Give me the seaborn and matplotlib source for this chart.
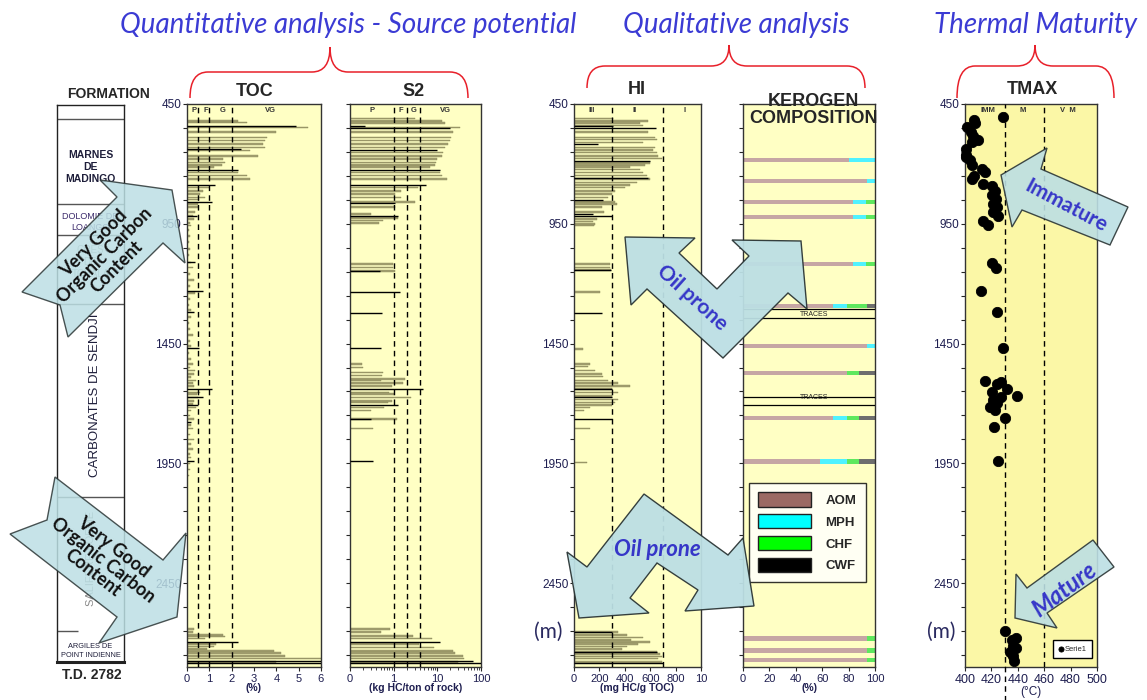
import numpy as np
import matplotlib
matplotlib.use("Agg")
import matplotlib.pyplot as plt
import seaborn as sns
from matplotlib.patches import Polygon, Patch, PathPatch
from matplotlib.path import Path
from matplotlib.ticker import LogLocator, NullFormatter

# ---- values (depth in m) ----
toc_depth = [520, 527, 549, 568, 589, 603, 617, 631, 645, 666, 680, 694, 705, 714, 735, 749, 763,
             798, 812, 826, 840, 849, 868, 881, 900, 916, 930, 947, 958,
             975, 1000, 1025, 1055, 1080, 1111, 1132, 1160, 1185, 1210, 1240, 1265, 1290, 1310,
             1340, 1365, 1390, 1415, 1440, 1460, 1490, 1515, 1536, 1550, 1563, 1577, 1590, 1605,
             1615, 1626, 1654, 1661, 1675, 1689, 1703, 1717, 1730, 1750, 1765, 1790, 1804, 1830,
             1850, 1870, 1890, 1910, 1925, 1950, 1975, 2000,
             2642, 2653, 2667, 2673, 2681, 2705, 2715, 2726, 2733, 2742, 2753, 2765, 2778]
toc_value = [2.3, 2.7, 5.4, 4.0, 3.6, 3.5, 3.4, 3.5, 2.8, 3.2, 1.6, 1.7, 1.55, 1.2, 2.3, 2.7, 2.8,
             1.0, 0.73, 0.58, 0.79, 0.55, 0.5, 0.5, 0.35, 0.25, 0.3, 0.15, 0.2,
             0.1, 0.12, 0.08, 0.15, 0.1, 0.2, 0.25, 0.15, 0.3, 0.12, 0.35, 0.15, 0.1, 0.2,
             0.18, 0.1, 0.15, 0.25, 0.12, 0.2, 0.1, 0.2, 0.25, 0.15, 0.35, 0.3, 0.2, 0.4,
             0.25, 0.3, 0.6, 0.45, 0.5, 0.3, 0.25, 0.4, 0.2, 0.15, 0.3, 0.2, 0.25, 0.15,
             0.3, 0.2, 0.25, 0.15, 0.2, 0.12, 0.15, 0.1,
             0.3, 0.25, 1.6, 1.7, 0.8, 1.3, 1.2, 0.9, 3.9, 4.2, 4.4, 6.0, 4.0]
toc_black_depth = [540, 638, 724, 788, 858, 916, 1111, 1229, 1320, 1470, 1640, 1671, 1707, 1779,
                   1939, 2694, 2774, 2784]
toc_black_value = [4.9, 2.4, 2.3, 1.25, 1.1, 0.45, 0.35, 0.73, 0.3, 0.55, 1.1, 0.73, 0.5, 0.2,
                   0.3, 2.3, 6.0, 6.0]

s2_depth = [510, 520, 529, 549, 568, 589, 603, 617, 631, 652, 666, 680, 694, 705, 714, 735, 749,
            763, 798, 812, 826, 840, 858, 881, 909, 927, 937, 947, 1118, 1132, 1146,
            1536, 1550, 1570, 1584, 1598, 1605, 1615, 1626, 1654, 1661, 1675, 1689, 1696, 1717,
            1730, 1765, 1804, 2642, 2653, 2670, 2681, 2705, 2719, 2733, 2742, 2753, 2765, 2778]
s2_value = [3.1, 12.5, 14.9, 33, 22.8, 21, 20, 18, 15, 13.4, 12.5, 9.6, 9.3, 8.8, 6.7, 11.5, 12.5,
            16.5, 3.7, 1.5, 1.07, 1.5, 3.1, 1.07, 0.31, 1.27, 0.58, 0.45, 0.98, 0.98, 1.1,
            0.19, 0.2, 0.58, 0.55, 1.8, 0.5, 1.6, 0.9, 0.8, 1.0, 2.5, 0.9, 0.75, 0.6,
            0.31, 1.17, 0.33, 0.82, 0.5, 2.8, 7.4, 3.9, 8.5, 23, 25, 38, 40, 30]
s2_black_depth = [540, 549, 641, 724, 788, 863, 916, 1146, 1234, 1324, 1470, 1640, 1707, 1765,
                  1939, 2694, 2774, 2784]
s2_black_value = [0.22, 19.4, 9.6, 11.5, 5.5, 1.07, 1.27, 0.49, 1.39, 0.55, 0.51, 4.7, 1.27, 0.31,
                  0.34, 11.8, 64, 100]

hi_depth = [510, 520, 529, 540, 568, 589, 599, 610, 631, 641, 652, 666, 677, 696, 705, 714, 724,
            735, 749, 763, 777, 788, 798, 812, 826, 840, 858, 868, 881, 900, 930, 941, 951, 958,
            1118, 1132, 1143, 1234, 1473, 1536, 1545, 1563, 1577, 1587, 1605, 1615, 1626, 1640,
            1654, 1668, 1684, 1696, 1707, 1717, 1730, 1804, 1946,
            2653, 2667, 2677, 2687, 2695, 2705, 2715, 2726, 2737, 2746, 2756, 2765, 2778]
hi_value = [310, 585, 520, 540, 579, 638, 650, 543, 640, 620, 651, 661, 690, 598, 559, 441, 520,
            543, 575, 600, 494, 441, 402, 323, 297, 268, 323, 336, 218, 236, 178, 150, 165, 158,
            283, 283, 290, 205, 73, 126, 110, 165, 220, 230, 270, 349, 441, 300,
            349, 300, 349, 320, 300, 126, 80, 126, 100,
            349, 420, 546, 450, 598, 500, 420, 380, 651, 677, 690, 660, 690]
hi_black_depth = [540, 549, 617, 687, 760, 849, 909, 919, 1143, 1324, 1640, 1675, 1765, 2653,
                  2737, 2784]
hi_black_value = [305, 646, 189, 598, 580, 228, 152, 297, 290, 218, 297, 297, 297, 300, 651, 700]

kerogen_depth = [684, 771, 859, 922, 1118, 1293, 1460, 1573, 1761, 1941, 2680, 2730, 2771]
aom = [80, 94, 83, 83, 83, 68, 94, 79, 68, 58, 94, 94, 94]
mph = [20, 6, 10, 10, 10, 11, 6, 0, 11, 21, 0, 0, 0]
chf = [0, 0, 7, 7, 7, 15, 0, 9, 9, 9, 6, 6, 6]
cwf = [0, 0, 0, 0, 0, 6, 0, 12, 12, 12, 0, 0, 0]
traces_lines = [1306, 1344, 1673, 1707]
traces_text = [1328, 1675]

tmax_temp = [428.5, 407, 407.6, 401.8, 404.3, 406.3, 409.6, 405, 400.5, 401, 400.5, 403.8, 405,
             412.6, 415, 406.8, 405, 413.9, 420.2, 422.7, 420.2, 423.5, 421.5, 424, 420.9, 425.3,
             413.9, 417.2, 420.2, 423.5, 411.9, 424.5, 428.5, 415.2, 424.5, 427, 432.1, 420.2,
             439.1, 427, 420.9, 424.5, 418.9, 422.7, 430.3, 421.9, 425.3, 430.3, 438.6, 435.3,
             436.5, 438.6, 434.1, 436.5, 437.1]
tmax_depth = [506, 516, 531, 547, 568, 585, 599, 610, 638, 663, 673, 683, 705, 721, 735, 752, 763,
              785, 794, 812, 830, 847, 868, 881, 902, 919, 937, 955, 1114, 1136, 1230, 1320, 1470,
              1605, 1619, 1612, 1640, 1651, 1670, 1675, 1685, 1698, 1716, 1726, 1762, 1800, 1939,
              2649, 2681, 2687, 2712, 2719, 2737, 2754, 2774]

formation_tops = [509, 865, 994, 1283, 2091]

sns.set_style("ticks")
plt.rcParams['font.family'] = ['Liberation Sans', 'DejaVu Sans']

W, H = 1147, 700
fig = plt.figure(figsize=(W / 100, H / 100), dpi=100)

PANEL = '#ffffc4'
OLIVE = '#a4a172'
NAVY = '#1e1e50'
BLUE = '#3636c8'
ARROW = '#bcdfe4'
RED = '#e8202a'


def px(x, y):
    return (x / W, 1 - y / H)


def add_ax(left, right, top, bottom):
    return fig.add_axes([left / W, 1 - bottom / H, (right - left) / W, (bottom - top) / H])


def depth_axis(ax, labels=True, face=PANEL):
    ax.set_facecolor(face)
    ax.set_ylim(2800, 450)
    ticks = np.arange(450, 2800, 100)
    ax.set_yticks(ticks)
    if labels:
        ax.set_yticklabels([str(t) if (t - 450) % 500 == 0 else '' for t in ticks])
    else:
        ax.set_yticklabels([])
    ax.tick_params(axis='y', direction='out', length=3, width=0.8, labelsize=8.5,
                   labelcolor=NAVY, pad=1)
    ax.tick_params(axis='x', direction='out', length=3, width=0.8, labelsize=8,
                   labelcolor=NAVY, pad=2)
    for s in ax.spines.values():
        s.set_color('#333333')
        s.set_linewidth(1)


def draw_bars(ax, depth, val, bdepth, bval, base=0.0):
    ax.barh(depth, np.array(val) - base, left=base, height=6.5, color=OLIVE,
            edgecolor='#8a8858', linewidth=0.3, zorder=2)
    ax.hlines(bdepth, base, bval, color='black', lw=1.0, zorder=3)


def dashed(ax, values):
    for v in values:
        ax.axvline(v, color='black', ls=(0, (4, 3)), lw=1, zorder=4)


def top_labels(ax, items):
    for x, t in items:
        ax.text(x, 478, t, fontsize=5.5, fontweight='bold', color='#333333',
                ha='center', va='center', zorder=5)


def xlab(ax, text, bold=True, size=7.5):
    ax.set_xlabel(text, fontsize=size, fontweight='bold' if bold else 'normal',
                  color=NAVY, labelpad=-1)


# ---- formation column ----
axf = add_ax(57, 124, 105, 662)
axf.set_ylim(2782, 450)
axf.set_xlim(0, 1)
axf.set_xticks([])
axf.set_yticks([])
axf.set_facecolor('white')
for s in axf.spines.values():
    s.set_color('#222222')
    s.set_linewidth(1)
axf.spines['bottom'].set_linewidth(2.2)
axf.hlines(formation_tops, 0, 1, color='#555555', lw=1)
axf.hlines([2652], 0, 0.31, color='#555555', lw=1)
axf.text(0.5, 710, 'MARNES\nDE\nMADINGO', ha='center', va='center', fontsize=7.5,
         fontweight='bold', color='#1e1e3a', linespacing=1.25)
axf.text(0.5, 940, 'DOLOMIE DE\nLOANGO', ha='center', va='center', fontsize=6.5,
         color='#3b2a6b', linespacing=1.2)
axf.text(0.5, 1107, 'GRES\nDE\nTCHALA', ha='center', va='center', fontsize=7,
         color='#9a9a9a', linespacing=1.2)
axf.text(0.57, 1664, 'CARBONATES DE SENDJI', ha='center', va='center', fontsize=9.5,
         color='#1e1e3a', rotation=90)
axf.text(0.5, 2347, 'SALIFERE LOEME', ha='center', va='center', fontsize=8,
         color='#8a8a8a', rotation=90)
axf.text(0.5, 2736, 'ARGILES DE\nPOINT INDIENNE', ha='center', va='center', fontsize=5.3,
         color='#1e1e3a', linespacing=1.5)
fig.text(*px(108, 94), 'FORMATION', ha='center', va='center', fontsize=10, fontweight='bold')
fig.text(*px(92, 675), 'T.D. 2782', ha='center', va='center', fontsize=10, fontweight='bold')

# ---- TOC ----
ax1 = add_ax(187, 321, 104, 667)
depth_axis(ax1)
draw_bars(ax1, toc_depth, toc_value, toc_black_depth, toc_black_value)
ax1.set_xlim(0, 6)
ax1.set_xticks(range(7))
dashed(ax1, [0.5, 1, 2])
top_labels(ax1, [(0.3, 'P'), (0.85, 'F'), (1.6, 'G'), (3.75, 'VG')])
xlab(ax1, '(%)')

# ---- S2 ----
ax2 = add_ax(350, 481, 104, 667)
depth_axis(ax2, labels=False)
ax2.set_xscale('log')
draw_bars(ax2, s2_depth, s2_value, s2_black_depth, s2_black_value, base=0.1)
ax2.set_xlim(0.1, 100)
ax2.set_xticks([0.1, 1, 10, 100])
ax2.set_xticklabels(['0', '1', '10', '100'])
ax2.xaxis.set_minor_locator(LogLocator(base=10, subs=range(2, 10)))
ax2.xaxis.set_minor_formatter(NullFormatter())
ax2.tick_params(axis='x', which='minor', length=2, direction='out')
dashed(ax2, [1, 2, 4])
top_labels(ax2, [(0.32, 'P'), (1.47, 'F'), (2.8, 'G'), (15.7, 'VG')])
xlab(ax2, '(kg HC/ton of rock)')

# ---- HI ----
ax3 = add_ax(574, 701, 104, 667)
depth_axis(ax3)
draw_bars(ax3, hi_depth, hi_value, hi_black_depth, hi_black_value)
ax3.set_xlim(0, 1000)
ax3.set_xticks(range(0, 1001, 200))
ax3.set_xticklabels(['0', '200', '400', '600', '800', '10'])
dashed(ax3, [300, 700])
top_labels(ax3, [(142, 'III'), (480, 'II'), (874, 'I')])
xlab(ax3, '(mg HC/g TOC)')

# ---- kerogen composition ----
ax4 = add_ax(743, 875, 104, 667)
depth_axis(ax4, labels=False)
ax4.set_xlim(0, 100)
ax4.set_xticks(range(0, 101, 20))
left = np.zeros(len(kerogen_depth))
bar_cols = ['#c6a6a4', '#4ff2ff', '#5ee85e', '#6e6e6e']
for vals, col in zip([aom, mph, chf, cwf], bar_cols):
    ax4.barh(kerogen_depth, vals, left=left, height=20, color=col, lw=0, zorder=2)
    left = left + np.array(vals)
ax4.hlines(traces_lines, 0, 100, color='black', lw=0.9, zorder=3)
for d in traces_text:
    ax4.text(54, d, 'TRACES', fontsize=5, ha='center', va='center', color='#222222', zorder=4)
xlab(ax4, '(%)')
handles = [Patch(facecolor=c, edgecolor='#222222', lw=1)
           for c in ['#9b6a64', '#00ffff', '#00ff00', '#000000']]
leg = ax4.legend(handles, ['AOM', 'MPH', 'CHF', 'CWF'], loc='upper left',
                 bbox_to_anchor=px(749, 483), bbox_transform=fig.transFigure,
                 frameon=True, fancybox=False, edgecolor='black',
                 prop={'weight': 'bold', 'size': 9.5}, handlelength=4.0, handleheight=1.3,
                 labelspacing=0.55, borderpad=0.7, handletextpad=1.1, borderaxespad=0)
leg.get_frame().set_linewidth(1)
leg.set_zorder(6)

# ---- TMAX ----
ax5 = add_ax(965, 1097, 104, 667)
sns.scatterplot(x=tmax_temp, y=tmax_depth, ax=ax5, color='black', s=55, edgecolor='black',
                label='Serie1', zorder=5, clip_on=False)
depth_axis(ax5, face='#fbf7a6')
ax5.set_xlim(400, 500)
ax5.set_xticks(range(400, 501, 20))
ax5.tick_params(axis='x', labelsize=9, pad=2)
ax5.axvline(430, ymin=-0.06, ymax=1, color='black', ls=(0, (4, 3)), lw=1, clip_on=False, zorder=4)
ax5.axvline(460, color='black', ls=(0, (4, 3)), lw=1, zorder=4)
top_labels(ax5, [(417, 'IMM'), (444, 'M'), (478, 'V  M')])
ax5.set_xlabel('(°C)', fontsize=8.5, color=NAVY, labelpad=0)
ax5.set_ylabel('')
lg = ax5.legend(loc='lower right', bbox_to_anchor=px(1092, 658), bbox_transform=fig.transFigure,
                fontsize=5.5, markerscale=0.5, handlelength=0.6, handletextpad=0.2,
                borderpad=0.7, fancybox=False, edgecolor='black', framealpha=1, borderaxespad=0)
lg.get_frame().set_linewidth(1)

fig.text(*px(548, 632), '(m)', fontsize=15, color='#2a2a60', ha='center', va='center',
         family='Lato')
fig.text(*px(941, 632), '(m)', fontsize=15, color='#2a2a60', ha='center', va='center',
         family='Lato')

# ---- panel titles ----
for x, y, t in [(255, 92, 'TOC'), (414, 92, 'S2'), (637, 90, 'HI'), (1032, 90, 'TMAX')]:
    fig.text(*px(x, y), t, fontsize=13, fontweight='bold', ha='center', va='center')
fig.text(*px(813, 110), 'KEROGEN\nCOMPOSITION', fontsize=13, fontweight='bold',
         ha='center', va='center', linespacing=1.05)

# ---- section titles and braces ----
for x, t in [(348, 'Quantitative analysis - Source potential'),
             (736, 'Qualitative analysis'), (1035, 'Thermal Maturity')]:
    fig.text(*px(x, 25), t, fontsize=20, style='italic', color='#3b3bd4',
             ha='center', va='center', family='Lato')


def brace(x0, x1, xm, yb, yh, yt, r=18):
    pts = [(x0, yb), (x0, yh), (x0 + r, yh), (xm - r, yh), (xm, yh), (xm, yt),
           (xm, yh), (xm + r, yh), (x1 - r, yh), (x1, yh), (x1, yb)]
    codes = [Path.MOVETO, Path.CURVE3, Path.CURVE3, Path.LINETO, Path.CURVE3, Path.CURVE3,
             Path.CURVE3, Path.CURVE3, Path.LINETO, Path.CURVE3, Path.CURVE3]
    path = Path([px(x, y) for x, y in pts], codes)
    fig.add_artist(PathPatch(path, transform=fig.transFigure, fill=False, edgecolor=RED, lw=1.1))


brace(190, 468, 330, 98, 72, 47)
brace(587, 865, 729, 88, 66, 45)
brace(957, 1114, 1035, 98, 66, 45)


# ---- block arrows ----
def block_arrow(points, text, center, rot, size, color, style='normal', alpha=0.85):
    poly = Polygon([px(x, y) for x, y in points], closed=True, transform=fig.transFigure,
                   facecolor=ARROW, edgecolor='#2b3535', lw=1, alpha=alpha, zorder=8)
    fig.add_artist(poly)
    fig.text(*px(*center), text, rotation=rot, rotation_mode='anchor', ha='center',
             va='center', fontsize=size, fontweight='bold', style=style, color=color,
             family='Lato', linespacing=0.95, zorder=9)


block_arrow([(22, 292), (117, 197), (100, 180), (172, 190), (185, 263), (163, 243),
             (68, 337), (60, 305)],
            'Very Good\nOrganic Carbon\nContent', (105, 255), 45, 13, '#111111')
block_arrow([(55, 477), (163, 560), (186, 533), (177, 617), (99, 643), (117, 617),
             (10, 534), (47, 520)],
            'Very Good\nOrganic Carbon\nContent', (103, 560), -38, 13, '#111111')
block_arrow([(625, 237), (695, 238), (679, 253), (717, 289), (749, 256), (732, 240),
             (801, 241), (807, 309), (788, 293), (723, 358), (647, 289), (631, 305)],
            'Oil prone', (692, 298), -42, 15, BLUE, alpha=0.95)
block_arrow([(644, 494), (728, 555), (743, 538), (754, 606), (685, 611), (698, 590),
             (657, 563), (630, 598), (649, 613), (579, 618), (567, 552), (587, 567)],
            'Oil prone', (657, 550), 0, 16, BLUE, style='italic', alpha=0.95)
block_arrow([(1001, 175), (1047, 148), (1041, 169), (1128, 207), (1110, 245), (1022, 210),
             (1012, 227)],
            'Immature', (1066, 206), -28, 15, BLUE, alpha=0.9)
block_arrow([(1015, 618), (1016, 574), (1027, 588), (1093, 540), (1114, 567), (1047, 613),
             (1057, 628)],
            'Mature', (1064, 590), 37, 17, BLUE, style='italic', alpha=0.9)

fig.savefig('out.png', dpi=100, facecolor='white')
